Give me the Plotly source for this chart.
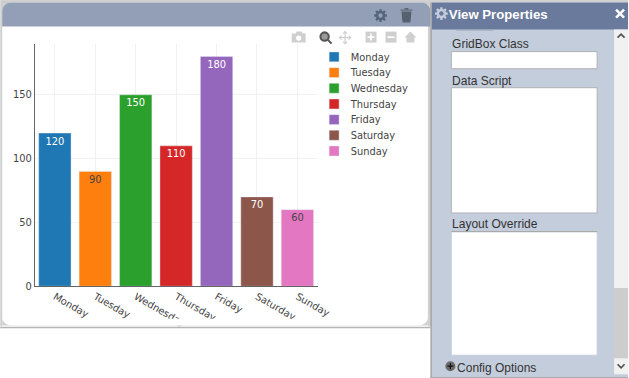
import math
import plotly.graph_objects as go

days = ["Monday", "Tuesday", "Wednesday", "Thursday", "Friday", "Saturday", "Sunday"]
values = [120, 90, 150, 110, 180, 70, 60]
colors = ["#1f77b4", "#ff7f0e", "#2ca02c", "#d62728", "#9467bd", "#8c564b", "#e377c2"]
y_ticks = [0, 50, 100, 150]

S = 0.825
W, H = math.ceil(629 / S), math.ceil(378 / S)
L, R, T, B = 34.5, 318.0, 44.1, 286.2


def fx(x):
    return (x - L) / (R - L)


def fy(y):
    return (B - y) / (B - T)


shapes = []


def rect(x0, y0, x1, y1, fill, layer="above", line=None):
    shapes.append(dict(type="rect", xref="paper", yref="paper", x0=fx(x0), x1=fx(x1),
                       y0=fy(y1), y1=fy(y0), fillcolor=fill, layer=layer,
                       line=dict(width=1 if line else 0, color=line or fill)))


def poly(points, fill=None, line=None, width=1, close=True):
    d = "M" + " L".join(f"{fx(a):.5f},{fy(b):.5f}" for a, b in points) + (" Z" if close else "")
    shapes.append(dict(type="path", xref="paper", yref="paper", path=d, layer="above",
                       fillcolor=fill or "rgba(0,0,0,0)",
                       line=dict(width=width if line else 0, color=line or "rgba(0,0,0,0)")))


def circle(cx, cy, r, fill=None, line=None, width=1):
    shapes.append(dict(type="circle", xref="paper", yref="paper", x0=fx(cx - r), x1=fx(cx + r),
                       y0=fy(cy + r), y1=fy(cy - r), layer="above", fillcolor=fill or "rgba(0,0,0,0)",
                       line=dict(width=width if line else 0, color=line or "rgba(0,0,0,0)")))


def gear(cx, cy, r, fill, hole):
    pts = []
    for i in range(8):
        a = i * math.pi / 4
        for da, rr in ((-0.26, r * 0.72), (-0.17, r), (0.17, r), (0.26, r * 0.72)):
            pts.append((cx + rr * math.cos(a + da), cy + rr * math.sin(a + da)))
    poly(pts, fill=fill)
    circle(cx, cy, r * 0.34, fill=hole)


def corner(x, y, r, sx, sy, fill):
    # fills the square corner at (x, y) outside a quarter circle of radius r
    pts = [(x, y)]
    for i in range(9):
        a = i * math.pi / 16
        pts.append((x + sx * (r - r * math.sin(a)), y + sy * (r - r * math.cos(a))))
    poly(pts, fill=fill)


band = "#d0d0d0"
# card
rect(0, 0, 629, 3, band)
rect(0, 2, 2, 326, band)
rect(428.5, 3, 432, 326, band)
rect(0, 326.5, 431, 328, "#b4b4b4")
rect(2, 318.5, 428.5, 325, "#ffffff")
rect(2, 325, 428.5, 326.5, "#ececec")
rect(2, 3, 431, 27, "#939fb6")
corner(2, 3, 9, 1, 1, band)
corner(431, 3, 9, -1, 1, band)
corner(2, 325, 8, 1, -1, band)
corner(428.5, 325, 8, -1, -1, band)
gear(381, 16, 6.5, "#56637c", "#939fb6")
poly([(402, 12), (412, 12), (411, 23), (403, 23)], fill="#56606f")
poly([(401, 10), (413, 10), (413, 11), (401, 11)], fill="#56606f")
poly([(405, 8.5), (409, 8.5), (409, 10), (405, 10)], fill="#56606f")

# toolbar
grey = "#cfcfcf"
poly([(292, 34), (296, 34), (297, 32), (302, 32), (303, 34), (306, 34), (306, 43), (292, 43)], fill=grey)
circle(299, 38.5, 2.6, fill="#ffffff")
circle(325, 37, 4.2, fill="#9a9a9a", line="#555555", width=2.5)
poly([(328, 40), (332, 44)], line="#555555", width=2.5, close=False)
poly([(340, 38), (351, 38)], line=grey, width=1.5, close=False)
poly([(345.5, 32), (345.5, 44)], line=grey, width=1.5, close=False)
poly([(343.5, 34), (345.5, 32), (347.5, 34)], line=grey, width=1.5, close=False)
poly([(343.5, 42), (345.5, 44), (347.5, 42)], line=grey, width=1.5, close=False)
poly([(342, 36), (340, 38), (342, 40)], line=grey, width=1.5, close=False)
poly([(349, 36), (351, 38), (349, 40)], line=grey, width=1.5, close=False)
rect(366, 32, 377, 43, grey)
poly([(368, 37.5), (375, 37.5)], line="#ffffff", width=2, close=False)
poly([(371.5, 34), (371.5, 41)], line="#ffffff", width=2, close=False)
rect(386, 32, 397, 43, grey)
poly([(388, 37.5), (395, 37.5)], line="#ffffff", width=2, close=False)
poly([(405, 38), (411, 32), (417, 38), (415, 38), (415, 43), (407, 43), (407, 38)], fill=grey)

# properties panel
rect(432, 3, 629, 376.5, "#c4cddc")
rect(431, 3, 432.5, 378, "#a4a4a4")
rect(431, 376.5, 629, 378, "#a4a9b3")
rect(432.5, 3, 629, 30, "#6a7a9c")
gear(442, 14, 6.5, "#c4cddc", "#6a7a9c")
rect(615, 30, 629, 288, "#f1f1f1")
rect(615, 288, 629, 358, "#cdcdcd")
rect(615, 358, 629, 374, "#f1f1f1")
rect(457, 30, 494, 31, "#9aa3b5")
rect(452, 52, 598, 69, "#ffffff", line="#a9a9a9")
rect(452, 88, 598, 213, "#ffffff", line="#a9a9a9")
rect(452, 232, 598, 355, "#ffffff", line="#c4cddc")
rect(452, 231, 598, 232, "#a9a9a9")
poly([(618.5, 38), (622, 34.5), (625.5, 38)], line="#505050", width=2, close=False)
poly([(618.5, 364), (622, 367.5), (625.5, 364)], line="#505050", width=2, close=False)
poly([(617, 10), (625, 18)], line="#ffffff", width=3, close=False)
poly([(625, 10), (617, 18)], line="#ffffff", width=3, close=False)
circle(451, 366, 5, fill="#6b6b6b")
poly([(448, 366), (454, 366)], line="#111111", width=1.5, close=False)
poly([(451, 363), (451, 369)], line="#111111", width=1.5, close=False)


def label(x, y, text, size, color="#333333", bold=False, family="Liberation Sans"):
    return dict(xref="paper", yref="paper", x=fx(x), y=fy(y), xanchor="left", yanchor="middle",
                showarrow=False, text=f"<b>{text}</b>" if bold else text,
                font=dict(family=family, size=size / S, color=color))


annotations = [
    label(448, 15, "View Properties", 13.2, "#ffffff", True),
    label(451, 44.5, "GridBox Class", 12),
    label(451, 81.5, "Data Script", 12),
    label(451, 223.5, "Layout Override", 12),
    label(456, 367.5, "Config Options", 12),
]

fig = go.Figure()
for day, value, color in zip(days, values, colors):
    fig.add_trace(go.Bar(x=[day], y=[value], name=day, text=[value], textposition="auto",
                         marker=dict(color=color), width=0.8, cliponaxis=False))

fig.update_layout(
    width=W, height=H,
    margin=dict(l=L / S, r=W - R / S, t=T / S, b=H - B / S, autoexpand=False),
    paper_bgcolor="#ffffff", plot_bgcolor="#ffffff",
    font=dict(family="DejaVu Sans", size=12, color="#444444"),
    barmode="overlay", showlegend=True,
    legend=dict(x=1.0, y=0.995, xanchor="left", yanchor="top", bgcolor="rgba(0,0,0,0)"),
    shapes=shapes, annotations=annotations,
)
fig.update_xaxes(categoryorder="array", categoryarray=days, range=[-0.5, 6.5], tickangle=30,
                 showgrid=True, gridcolor="#eeeeee", showline=True, linecolor="#444444",
                 linewidth=1.2, tickfont=dict(size=12), automargin=False)
fig.update_yaxes(range=[0, 190], tickvals=y_ticks, showgrid=True, gridcolor="#eeeeee",
                 zeroline=False, showline=True, linecolor="#444444", linewidth=1.2,
                 tickfont=dict(size=12), automargin=False)

post = ("document.documentElement.style.overflow='hidden';"
        "document.body.style.margin='0';document.body.style.overflow='hidden';"
        f"var g=document.getElementsByClassName('plotly-graph-div')[0];"
        f"g.style.transform='scale({S})';g.style.transformOrigin='0 0';")
fig.write_html("out.html", config=dict(displayModeBar=False, responsive=False), post_script=post)
